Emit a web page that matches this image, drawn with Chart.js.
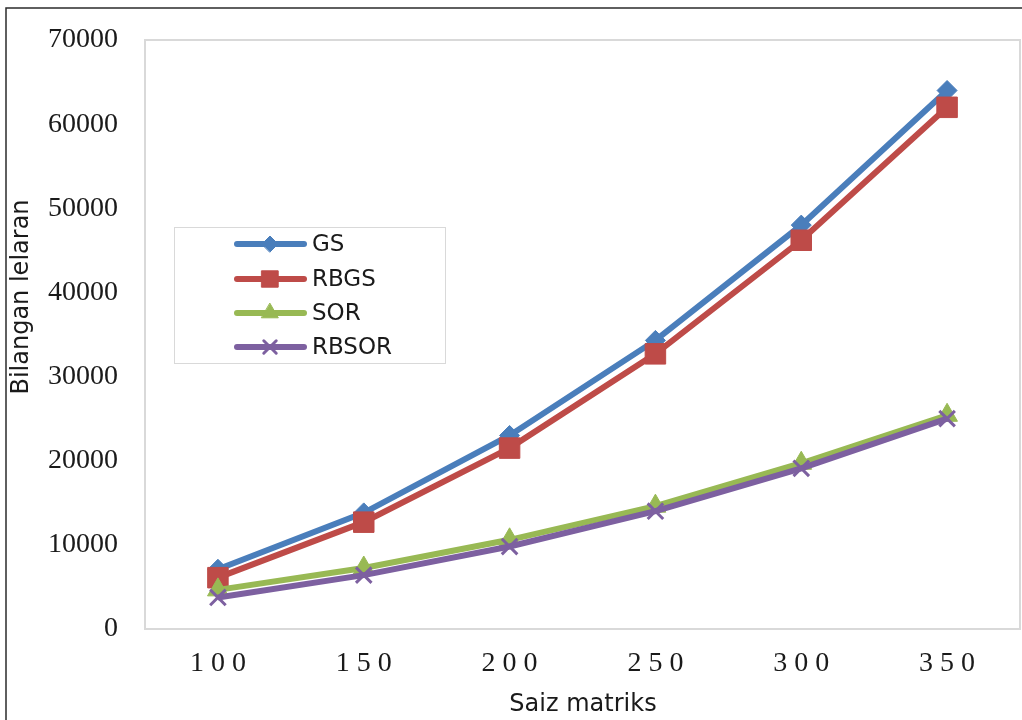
<!DOCTYPE html>
<html>
<head>
<meta charset="utf-8">
<script src="https://cdn.jsdelivr.net/npm/chart.js@4/dist/chart.umd.min.js"></script>
<style>
  html, body { margin: 0; padding: 0; background: #fff; overflow: hidden; }
  #wrap { width: 1022px; height: 720px; }
  canvas { display: block; }
</style>
</head>
<body>
<div id="wrap"><canvas id="line-chart" width="1022" height="720"></canvas></div>
<script>
const sizes = ['100', '150', '200', '250', '300', '350'];
const gs = [7100, 13800, 23000, 34300, 48000, 64000];
const rbgs = [6100, 12700, 21500, 32700, 46200, 62000];
const sor = [4650, 7250, 10600, 14600, 19700, 25400];
const rbsor = [3750, 6400, 9800, 14000, 19100, 25000];

const yTitle = 'Bilangan lelaran';
const xTitle = 'Saiz matriks';

// legenda en assen-titels zelf tekenen, zoals in het origineel
const framePlugin = {
  id: 'frame',
  beforeDraw(chart) {
    const ctx = chart.ctx;
    const a = chart.chartArea;
    ctx.save();
    ctx.strokeStyle = '#2b2b2b';
    ctx.lineWidth = 1.5;
    ctx.beginPath();
    ctx.moveTo(6, 720);
    ctx.lineTo(6, 8);
    ctx.lineTo(1022, 8);
    ctx.stroke();
    ctx.strokeStyle = '#d9d9d9';
    ctx.lineWidth = 2;
    ctx.strokeRect(a.left, a.top, a.right - a.left, a.bottom - a.top);
    ctx.restore();
  },
  afterDraw(chart) {
    const ctx = chart.ctx;
    ctx.save();
    ctx.fillStyle = '#1a1a1a';
    ctx.font = '24px "DejaVu Sans"';
    ctx.textAlign = 'center';
    ctx.textBaseline = 'middle';
    ctx.fillText(xTitle, 583, 705);
    ctx.translate(22, 297);
    ctx.rotate(-Math.PI / 2);
    ctx.fillText(yTitle, 0, 0);
    ctx.restore();

    // legenda
    ctx.save();
    ctx.strokeStyle = '#d9d9d9';
    ctx.lineWidth = 1;
    ctx.strokeRect(174.5, 227.5, 271, 136);
    const rows = [244, 279, 313, 347];
    chart.data.datasets.forEach((ds, i) => {
      const y = rows[i];
      ctx.strokeStyle = ds.borderColor;
      ctx.fillStyle = ds.backgroundColor;
      ctx.lineWidth = 6;
      ctx.lineCap = 'round';
      ctx.beginPath();
      ctx.moveTo(237, y);
      ctx.lineTo(304, y);
      ctx.stroke();
      ctx.lineWidth = ds.pointBorderWidth;
      if (Chart.helpers && Chart.helpers.drawPoint) {
        Chart.helpers.drawPoint(ctx, {
          pointStyle: ds.pointStyle,
          radius: ds.pointRadius * 0.8,
          borderWidth: ds.pointBorderWidth,
          rotation: 0
        }, 270, y);
      }
      ctx.fillStyle = '#1a1a1a';
      ctx.font = '23px "DejaVu Sans"';
      ctx.textAlign = 'left';
      ctx.textBaseline = 'middle';
      ctx.fillText(ds.label, 312, y + 1);
    });
    ctx.restore();
  }
};

const lineChart = document.getElementById('line-chart');

new Chart(lineChart, {
  type: 'line',
  data: {
    labels: sizes,
    datasets: [{
      label: 'GS',
      data: gs,
      borderColor: '#4a7ebb',
      backgroundColor: '#4a7ebb',
      borderWidth: 6,
      pointStyle: 'rectRot',
      pointRadius: 10,
      pointBorderWidth: 1,
      order: 4
    }, {
      label: 'RBGS',
      data: rbgs,
      borderColor: '#be4b48',
      backgroundColor: '#be4b48',
      borderWidth: 6,
      pointStyle: 'rect',
      pointRadius: 14.5,
      pointBorderWidth: 1,
      order: 3
    }, {
      label: 'SOR',
      data: sor,
      borderColor: '#98b954',
      backgroundColor: '#98b954',
      borderWidth: 6,
      pointStyle: 'triangle',
      pointRadius: 12,
      pointBorderWidth: 1,
      order: 2
    }, {
      label: 'RBSOR',
      data: rbsor,
      borderColor: '#7d60a0',
      backgroundColor: '#7d60a0',
      borderWidth: 6,
      pointStyle: 'crossRot',
      pointRadius: 11,
      pointBorderWidth: 3,
      order: 1
    }]
  },
  options: {
    responsive: false,
    animation: false,
    events: [],
    layout: {
      autoPadding: false,
      padding: { left: 0, top: 40, right: 2, bottom: 0 }
    },
    scales: {
      x: {
        offset: true,
        grid: { display: false, drawTicks: false },
        border: { display: false },
        afterFit: s => { s.height = 91; s.paddingLeft = 0; s.paddingRight = 0; },
        ticks: {
          padding: 18,
          color: '#1a1a1a',
          font: { family: '"Liberation Serif"', size: 28 },
          maxRotation: 0,
          callback: function (v) { return this.getLabelForValue(v).split('').join(' '); }
        }
      },
      y: {
        min: 0,
        max: 70000,
        grid: { display: false, drawTicks: false },
        border: { display: false },
        afterFit: s => { s.width = 145; s.paddingTop = 0; s.paddingBottom = 0; },
        ticks: {
          stepSize: 10000,
          padding: 27,
          color: '#1a1a1a',
          font: { family: '"Liberation Serif"', size: 28 },
          callback: v => String(v)
        }
      }
    },
    plugins: {
      legend: { display: false },
      tooltip: { enabled: false }
    }
  },
  plugins: [framePlugin]
});
</script>
</body>
</html>
